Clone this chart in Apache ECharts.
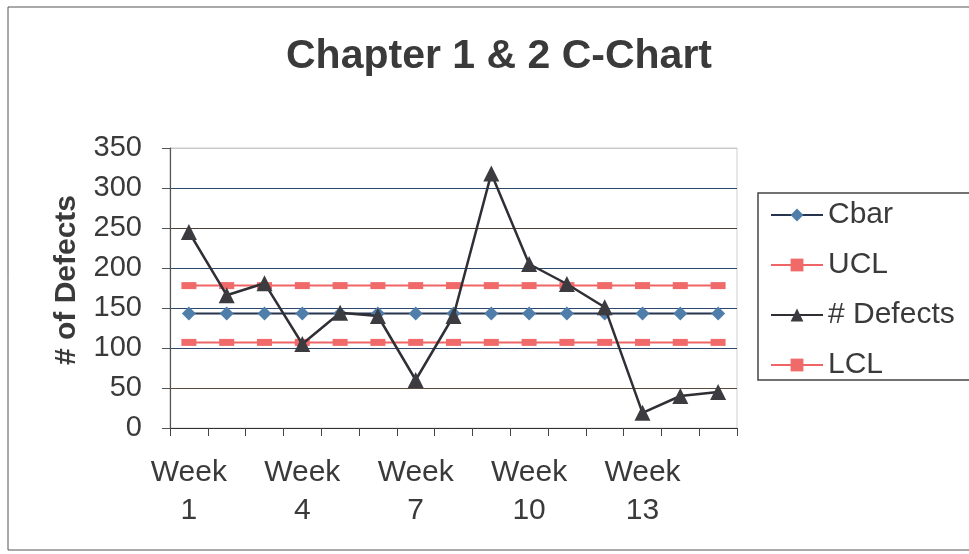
<!DOCTYPE html>
<html>
<head>
<meta charset="utf-8">
<script src="https://cdn.jsdelivr.net/npm/echarts@6/dist/echarts.min.js"></script>
<style>
  html, body { margin: 0; padding: 0; background: #ffffff; }
  #chart { width: 969px; height: 554px; }
</style>
</head>
<body>
<div id="chart"></div>
<script>
// Weekly defect counts with the C-chart centre line and control limits
const weeks = ['Week\n1', 'Week\n2', 'Week\n3', 'Week\n4', 'Week\n5', 'Week\n6', 'Week\n7', 'Week\n8',
               'Week\n9', 'Week\n10', 'Week\n11', 'Week\n12', 'Week\n13', 'Week\n14', 'Week\n15'];
const defects = [245, 166, 181, 105, 144, 140, 60, 140, 318, 205, 180, 151, 19, 40, 45];
const cbar = [143, 143, 143, 143, 143, 143, 143, 143, 143, 143, 143, 143, 143, 143, 143];
const ucl = [178, 178, 178, 178, 178, 178, 178, 178, 178, 178, 178, 178, 178, 178, 178];
const lcl = [107, 107, 107, 107, 107, 107, 107, 107, 107, 107, 107, 107, 107, 107, 107];
const yTicks = { min: 0, max: 350, step: 50 };

const font = 'Arial, "Liberation Sans", sans-serif';
const chart = echarts.init(document.getElementById('chart'), null, { renderer: 'canvas' });

chart.setOption({
  backgroundColor: '#ffffff',
  animation: false,
  textStyle: { fontFamily: font },
  title: {
    text: 'Chapter 1 & 2 C-Chart',
    left: 494,
    textAlign: 'center',
    top: 31,
    textStyle: { fontFamily: font, fontSize: 41, fontWeight: 'bold', color: '#3a3a3a' }
  },
  graphic: [{
    type: 'rect',
    shape: { x: 8, y: 7, width: 1000, height: 543 },
    style: { fill: 'none', stroke: '#555', lineWidth: 1 },
    silent: true,
    z: -1
  }],
  legend: {
    orient: 'vertical',
    left: 758,
    top: 193,
    padding: [7, 40, 0, 12],
    borderColor: '#444',
    borderWidth: 1.5,
    itemWidth: 52,
    itemHeight: 16,
    itemGap: 20,
    textStyle: { fontFamily: font, fontSize: 30, color: '#3a3a3a', lineHeight: 29 },
    data: ['Cbar', 'UCL', '# Defects', 'LCL']
  },
  grid: {
    left: 170, right: 232, top: 148, bottom: 126,
    show: true, borderColor: '#cfcfcf', borderWidth: 1
  },
  xAxis: {
    type: 'category',
    data: weeks,
    boundaryGap: true,
    axisLine: { lineStyle: { color: '#333', width: 1.2 } },
    axisTick: { show: true, interval: 0, length: 8, lineStyle: { color: '#444' } },
    axisLabel: {
      interval: 2,
      margin: 26,
      fontFamily: font,
      fontSize: 30,
      lineHeight: 38,
      color: '#3a3a3a'
    }
  },
  yAxis: {
    type: 'value',
    min: yTicks.min,
    max: yTicks.max,
    interval: yTicks.step,
    name: '# of Defects',
    nameLocation: 'middle',
    nameRotate: 90,
    nameGap: 88,
    nameTextStyle: { fontFamily: font, fontSize: 30, fontWeight: 'bold', color: '#3a3a3a', padding: [0, 0, 0, 16] },
    axisLine: { show: true, lineStyle: { color: '#555', width: 1.2 } },
    axisTick: { show: true, length: 8, lineStyle: { color: '#555' } },
    axisLabel: { margin: 28, fontFamily: font, fontSize: 29, color: '#3a3a3a' },
    splitLine: {
      show: true,
      lineStyle: {
        width: 1.2,
        color: ['#2c3e58', '#5b4a3c', '#2d4868', '#2d4868', '#2d4868', '#4e4034', '#2d4868', '#c8c8c8']
      }
    }
  },
  series: [
    {
      name: 'Cbar',
      type: 'line',
      data: cbar,
      symbol: 'diamond',
      symbolSize: 14,
      lineStyle: { color: '#27344f', width: 2 },
      itemStyle: { color: '#4f7eab' },
      z: 2
    },
    {
      name: 'UCL',
      type: 'line',
      data: ucl,
      symbol: 'rect',
      symbolSize: [15, 7],
      lineStyle: { color: '#ef6464', width: 2 },
      itemStyle: { color: '#f06a6a' },
      z: 3
    },
    {
      name: '# Defects',
      type: 'line',
      data: defects,
      symbol: 'triangle',
      symbolSize: 16,
      lineStyle: { color: '#2f2f35', width: 2.5 },
      itemStyle: { color: '#3b3b40' },
      z: 5
    },
    {
      name: 'LCL',
      type: 'line',
      data: lcl,
      symbol: 'rect',
      symbolSize: [15, 7],
      lineStyle: { color: '#ef6464', width: 2 },
      itemStyle: { color: '#f06a6a' },
      z: 3
    }
  ]
});
</script>
</body>
</html>
